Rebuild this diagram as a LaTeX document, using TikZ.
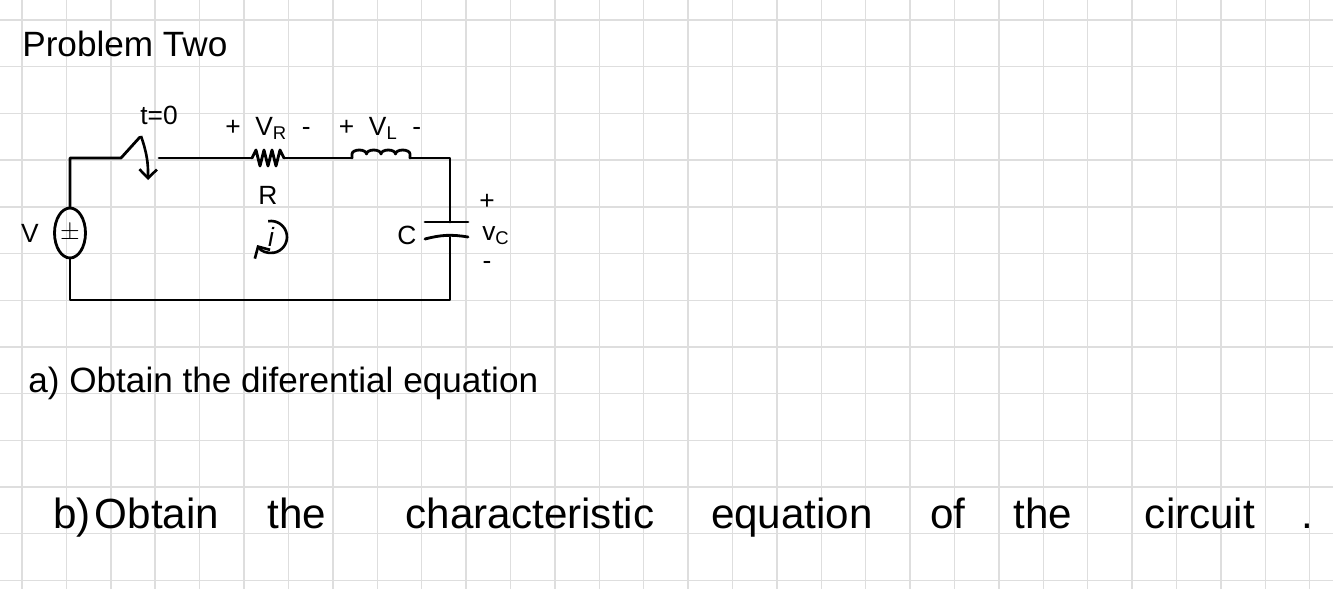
\documentclass[tikz,border=0pt]{standalone}
\usepackage{fontspec}
\setmainfont{Liberation Sans}
\usetikzlibrary{arrows.meta,shapes.geometric}
\begin{document}
\begin{tikzpicture}[x=0.02cm,y=-0.02cm,
  wire/.style={line width=1.6pt,line join=round,line cap=round},
  lbl/.style={inner sep=0pt,font=\fontsize{15}{17}\selectfont},
  big/.style={inner sep=0pt,anchor=base,font=\fontsize{24}{28}\selectfont},
  mid/.style={inner sep=0pt,anchor=base west,font=\fontsize{20}{24}\selectfont}]
\useasboundingbox (0,0) rectangle (1333,589);
\fill[white] (0,0) rectangle (1333,589);
\foreach \i in {0,...,29} \draw[black!13,line width=0.8pt] (22+44.4*\i,0) -- (22+44.4*\i,589);
\foreach \j in {0,...,12} \draw[black!13,line width=0.8pt] (0,20+46.7*\j) -- (1333,20+46.7*\j);
% title
\node[mid] (title) at (22,56) {Problem Two};
% circuit coordinates
\coordinate (tl) at (70,158);
\coordinate (bl) at (70,300);
\coordinate (br) at (450,300);
\coordinate (tr) at (450,158);
\coordinate (sw1) at (121,158);
\coordinate (sw2) at (140,137);
\coordinate (sw3) at (159,158);
\coordinate (r1) at (252,158);
\coordinate (r2) at (284,158);
\coordinate (l1) at (352,158);
\coordinate (l2) at (410,158);
\coordinate (c1) at (450,222);
\coordinate (c2) at (450,237);
\node[draw,line width=1.6pt,ellipse,minimum width=0.62cm,minimum height=1.0cm,inner sep=0pt] (src) at (70,233) {};
\node[font=\bfseries\fontsize{15}{17}\selectfont,inner sep=0pt] at (src) {$\pm$};
\draw[wire] (src.north) -- (tl) -- (sw1) -- (sw2);
\draw[wire] (sw3) -- (r1);
\draw[wire] (r1) -- ++(4,-8) -- ++(4,16) -- ++(4,-16) -- ++(4,16) -- ++(4,-16) -- ++(4,16) -- ++(4,-16) -- ++(4,8) -- (r2);
\draw[wire] (r2) -- (l1);
\draw[wire] (l1) -- ++(0,-4) arc[start angle=180,end angle=0,x radius=7.25,y radius=-4]
  arc[start angle=180,end angle=0,x radius=7.25,y radius=-4]
  arc[start angle=180,end angle=0,x radius=7.25,y radius=-4]
  arc[start angle=180,end angle=0,x radius=7.25,y radius=-4] -- (l2);
\draw[wire] (l2) -- (tr) -- (c1);
\draw[wire] (425,222) -- (468,222);
\draw[wire] (425,239) to[bend left=12] (468,237);
\draw[wire] (c2) -- (br) -- (bl) -- (src.south);
% switch arrow
\draw[line width=1.5pt,-{Straight Barb[length=5pt]}] (141,136) to[bend left=10] (148,180);
% labels
\node[lbl] (t0) at (159,115) {t=0};
\node[lbl] (vr) at (268,128) {+\ \ V\textsubscript{R}\ \ -};
\node[lbl] (vl) at (380,128) {+\ \ V\textsubscript{L}\ \ -};
\node[lbl] (R) at (268,195) {R};
\node[lbl] (V) at (30,233) {V};
\node[lbl] (C) at (407,235) {C};
\node[lbl] (cp) at (487,202) {+};
\node[lbl] (vc) at (496,236) {v\textsubscript{C}};
\node[lbl] (cm) at (487,265) {-};
\node[lbl] (i) at (271,237) {\itshape i};
\draw[line width=1.5pt,-{Straight Barb[length=5pt]}] (i) ++(-100:16) arc[start angle=-100,end angle=150,radius=16];
% questions
\node[mid] (qa) at (28,392) {a) Obtain the diferential equation};
\node[big] at (72,528) {b)};
\node[big] at (157,528) {Obtain};
\node[big] at (297,528) {the};
\node[big] at (530,528) {characteristic};
\node[big] at (792,528) {equation};
\node[big] at (948,528) {of};
\node[big] at (1043,528) {the};
\node[big] at (1200,528) {circuit};
\node[big] at (1307,528) {.};
\end{tikzpicture}
\end{document}
